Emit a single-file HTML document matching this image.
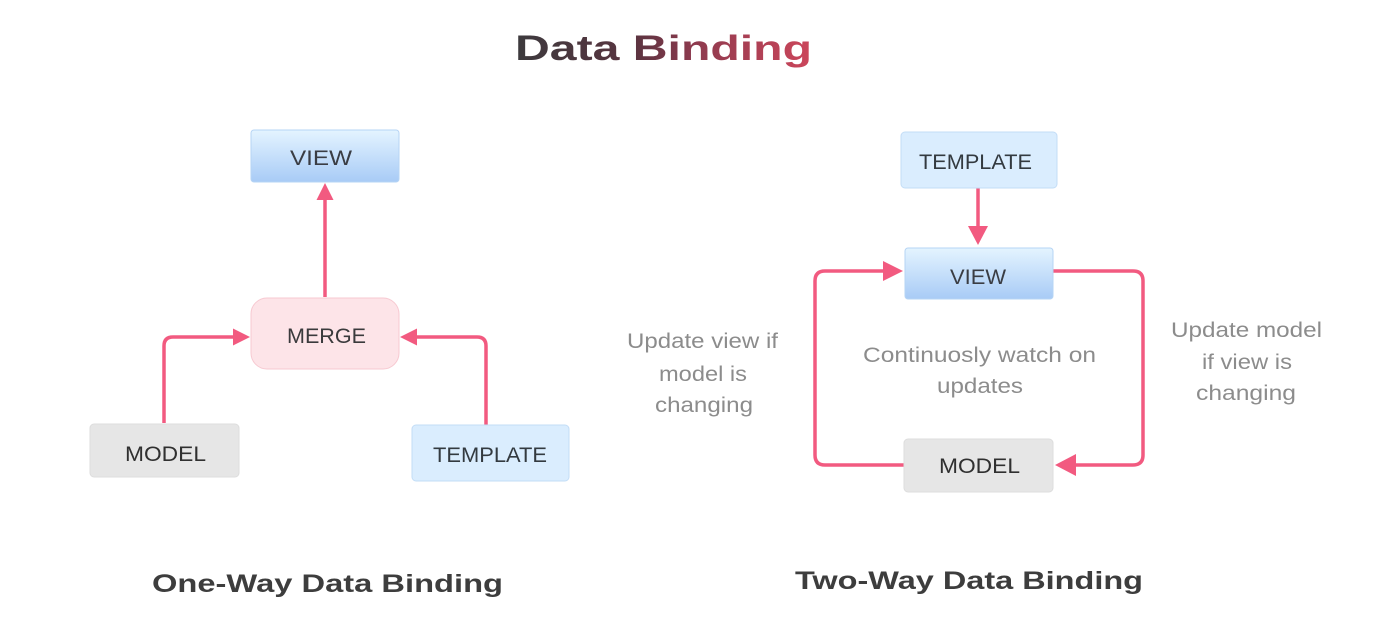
<!DOCTYPE html>
<html>
<head>
<meta charset="utf-8">
<style>
  html, body { margin:0; padding:0; background:#ffffff; }
  body { width:1376px; height:634px; overflow:hidden; }
  svg { display:block; }
  text { font-family: "Liberation Sans", "DejaVu Sans", sans-serif; }
</style>
</head>
<body>
<svg width="1376" height="634" viewBox="0 0 1376 634" xmlns="http://www.w3.org/2000/svg">
  <defs>
    <linearGradient id="titleGrad" gradientUnits="userSpaceOnUse" x1="515" y1="0" x2="812" y2="0">
      <stop offset="0" stop-color="#3c3a3d"/>
      <stop offset="0.4" stop-color="#5a3440"/>
      <stop offset="0.6" stop-color="#8d3a4e"/>
      <stop offset="1" stop-color="#cc465b"/>
    </linearGradient>
    <linearGradient id="viewGrad" x1="0" y1="0" x2="0" y2="1">
      <stop offset="0" stop-color="#e4f4ff"/>
      <stop offset="1" stop-color="#a8cbf6"/>
    </linearGradient>
  </defs>

  <!-- Title -->
  <text x="515" y="60" font-size="35" font-weight="bold" fill="url(#titleGrad)" textLength="297" lengthAdjust="spacingAndGlyphs">Data Binding</text>

  <!-- ============ LEFT: One-Way ============ -->
  <g fill="none" stroke="#f25a80" stroke-width="3.5" stroke-linecap="butt">
    <line x1="325" y1="297" x2="325" y2="198"/>
    <path d="M164,423 V346 Q164,337 173,337 H235"/>
    <path d="M486,425 V346 Q486,337 477,337 H415"/>
  </g>
  <g fill="#f25a80">
    <polygon points="325,183 316.5,200 333.5,200"/>
    <polygon points="250,337 233,328.5 233,345.5"/>
    <polygon points="400,337 417,328.5 417,345.5"/>
  </g>

  <rect x="251" y="130" width="148" height="52" rx="3" fill="url(#viewGrad)" stroke="#b6d4f4" stroke-width="1"/>
  <text x="290" y="165" font-size="21" fill="#3a3d44" textLength="62" lengthAdjust="spacingAndGlyphs">VIEW</text>

  <rect x="251" y="298" width="148" height="71" rx="16" fill="#fde4e8" stroke="#f7c9d1" stroke-width="1"/>
  <text x="287" y="343" font-size="21" fill="#3a3a3c" textLength="79" lengthAdjust="spacingAndGlyphs">MERGE</text>

  <rect x="90" y="424" width="149" height="53" rx="4" fill="#e6e6e6" stroke="#dddddd" stroke-width="1"/>
  <text x="125" y="461" font-size="21" fill="#303030" textLength="81" lengthAdjust="spacingAndGlyphs">MODEL</text>

  <rect x="412" y="425" width="157" height="56" rx="4" fill="#daedfe" stroke="#c3ddf6" stroke-width="1"/>
  <text x="433" y="462" font-size="21" fill="#333a40" textLength="114" lengthAdjust="spacingAndGlyphs">TEMPLATE</text>

  <text x="152" y="592" font-size="25" font-weight="bold" fill="#3d3d3d" textLength="351" lengthAdjust="spacingAndGlyphs">One-Way Data Binding</text>

  <!-- ============ RIGHT: Two-Way ============ -->
  <g fill="none" stroke="#f25a80" stroke-width="3.5">
    <line x1="978" y1="188" x2="978" y2="228"/>
    <path d="M904,465 H825 Q815,465 815,455 V281 Q815,271 825,271 H885"/>
    <path d="M1053,271 H1133 Q1143,271 1143,281 V455 Q1143,465 1133,465 H1073"/>
  </g>
  <g fill="#f25a80">
    <polygon points="978,245 968,226 988,226"/>
    <polygon points="903,271 883,261 883,281"/>
    <polygon points="1055,465 1076,454 1076,476"/>
  </g>

  <rect x="901" y="132" width="156" height="56" rx="4" fill="#daedfe" stroke="#c3ddf6" stroke-width="1"/>
  <text x="919" y="169" font-size="21" fill="#333a40" textLength="113" lengthAdjust="spacingAndGlyphs">TEMPLATE</text>

  <rect x="905" y="248" width="148" height="51" rx="3" fill="url(#viewGrad)" stroke="#b6d4f4" stroke-width="1"/>
  <text x="950" y="284" font-size="21" fill="#3a3d44" textLength="56" lengthAdjust="spacingAndGlyphs">VIEW</text>

  <rect x="904" y="439" width="149" height="53" rx="4" fill="#e6e6e6" stroke="#dddddd" stroke-width="1"/>
  <text x="939" y="473" font-size="21" fill="#303030" textLength="81" lengthAdjust="spacingAndGlyphs">MODEL</text>

  <!-- annotations -->
  <g font-size="21" fill="#8c8c8c">
    <text x="863" y="362" textLength="233" lengthAdjust="spacingAndGlyphs">Continuosly watch on</text>
    <text x="937" y="393" textLength="86" lengthAdjust="spacingAndGlyphs">updates</text>

    <text x="627" y="348" textLength="151" lengthAdjust="spacingAndGlyphs">Update view if</text>
    <text x="659" y="381" textLength="88" lengthAdjust="spacingAndGlyphs">model is</text>
    <text x="655" y="412" textLength="98" lengthAdjust="spacingAndGlyphs">changing</text>

    <text x="1171" y="337" textLength="151" lengthAdjust="spacingAndGlyphs">Update model</text>
    <text x="1202" y="369" textLength="90" lengthAdjust="spacingAndGlyphs">if view is</text>
    <text x="1196" y="400" textLength="100" lengthAdjust="spacingAndGlyphs">changing</text>
  </g>

  <text x="795" y="589" font-size="25" font-weight="bold" fill="#3d3d3d" textLength="348" lengthAdjust="spacingAndGlyphs">Two-Way Data Binding</text>
</svg>
</body>
</html>
